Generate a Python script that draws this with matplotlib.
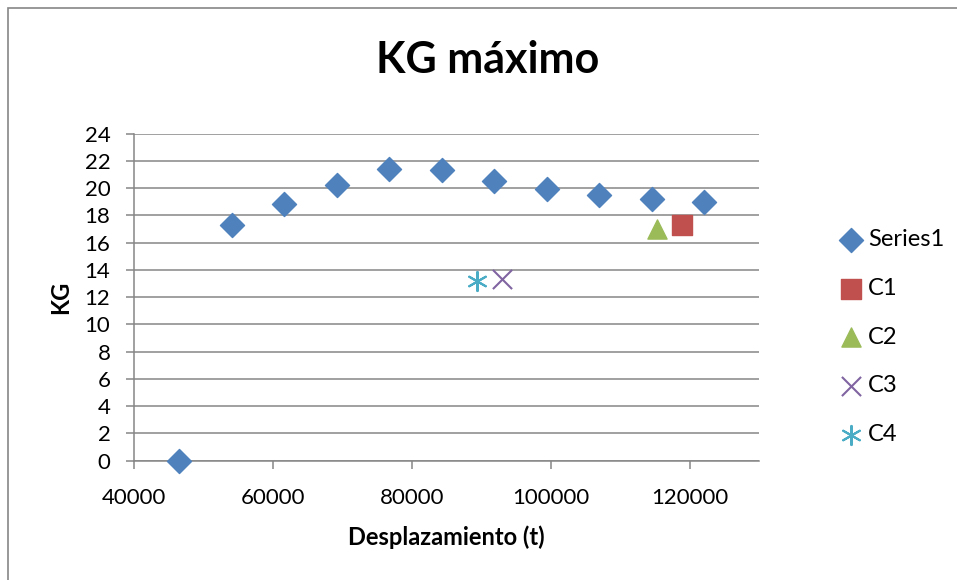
import matplotlib
matplotlib.use("Agg")
import matplotlib.pyplot as plt
from matplotlib.patches import Rectangle

plt.rcParams['font.family'] = ['Lato', 'DejaVu Sans']

# Series1: displacement (t) vs maximum KG
disp = [46500, 54060, 61620, 69190, 76750, 84310, 91870, 99440, 107000, 114560, 122120]
kg = [0.0, 17.3, 18.8, 20.2, 21.4, 21.3, 20.55, 19.96, 19.5, 19.16, 18.96]

# Individual load cases
c1_x, c1_y = [118940], [17.27]
c2_x, c2_y = [115250], [17.0]
c3_x, c3_y = [93060], [13.31]
c4_x, c4_y = [89440], [13.21]

x_ticks = [40000, 60000, 80000, 100000, 120000]
y_ticks = list(range(0, 25, 2))

W, H, DPI = 957, 580, 100
fig = plt.figure(figsize=(W / DPI, H / DPI), dpi=DPI)
fig.patch.set_facecolor('white')

# outer chart frame
fig.add_artist(Rectangle((8 / W, -0.1), 1.2, (H - 8) / H + 0.1, transform=fig.transFigure,
                         fill=False, edgecolor='#868686', linewidth=1.2))

left, right, top, bottom = 134, 759, 133.5, 460.7
ax = fig.add_axes([left / W, 1 - bottom / H, (right - left) / W, (bottom - top) / H])

grid_col = '#868686'
ax.set_xlim(40000, 130000)
ax.set_ylim(0, 24)
ax.set_xticks(x_ticks)
ax.set_yticks(y_ticks)
ax.set_xticklabels([str(v) for v in x_ticks])
ax.set_yticklabels([str(v) for v in y_ticks])
ax.yaxis.grid(True, color=grid_col, linewidth=1.1)
ax.set_axisbelow(True)
for s in ['top', 'right']:
    ax.spines[s].set_visible(False)
for s in ['left', 'bottom']:
    ax.spines[s].set_color(grid_col)
    ax.spines[s].set_linewidth(1.1)
ax.tick_params(axis='both', colors=grid_col, length=6, width=1.1, labelsize=16,
               labelcolor='black', direction='out')
ax.tick_params(axis='x', pad=14)
ax.tick_params(axis='y', pad=11)

ax.scatter(disp, kg, marker='D', s=150, color='#4F81BD', label='Series1', clip_on=False, zorder=3)
ax.scatter(c1_x, c1_y, marker='s', s=190, color='#C0504D', label='C1', zorder=3)
ax.scatter(c2_x, c2_y, marker='^', s=190, color='#9BBB59', label='C2', zorder=3)
ax.scatter(c3_x, c3_y, marker='x', s=190, color='#8064A2', linewidths=1.5, label='C3', zorder=3)
ax.scatter(c4_x, c4_y, marker=(6, 2, 0), s=190, color='#4BACC6', linewidths=1.5, label='C4', zorder=3)

ax.set_xlabel('Desplazamiento (t)', fontsize=17, fontweight='bold', labelpad=12)
ax.set_ylabel('KG', fontsize=17, fontweight='bold', labelpad=9)
fig.text(488 / W, 1 - 60 / H, 'KG máximo', ha='center', va='center', fontsize=31, fontweight='bold')

leg = ax.legend(loc='center left', bbox_to_anchor=(830 / W, 1 - 337 / H), bbox_transform=fig.transFigure,
                frameon=False, fontsize=17, labelspacing=1.17, handletextpad=0.2, borderaxespad=0,
                handlelength=1.0, markerscale=1.0)

fig.savefig('out.png', dpi=DPI)
